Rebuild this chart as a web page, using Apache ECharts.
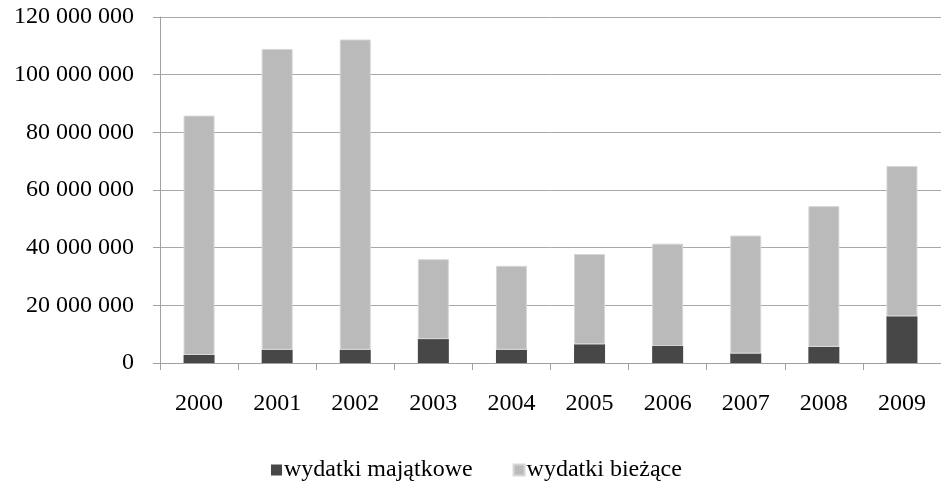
<!DOCTYPE html>
<html>
<head>
<meta charset="utf-8">
<script src="https://cdn.jsdelivr.net/npm/echarts@6/dist/echarts.min.js"></script>
<style>
  html, body { margin: 0; padding: 0; background: #fff; }
  #chart { width: 941px; height: 481px; }
</style>
</head>
<body>
<div id="chart"></div>
<script>
// dane
const years = ['2000', '2001', '2002', '2003', '2004', '2005', '2006', '2007', '2008', '2009']
const majatkowe = [2800000, 4600000, 4600000, 8300000, 4600000, 6500000, 5900000, 3300000, 5600000, 16200000]
const biezace = [83000000, 104300000, 107600000, 27700000, 29100000, 31300000, 35500000, 40900000, 48800000, 52100000]
const yTicks = [0, 20000000, 40000000, 60000000, 80000000, 100000000, 120000000]

const font = 'Liberation Serif'

let myChart = echarts.init(document.querySelector('#chart'))
let option = {
  animation: false,
  textStyle: { fontFamily: font },
  grid: {
    left: 160,
    top: 17,
    width: 783,
    height: 346
  },
  legend: {
    left: 266,
    top: 453,
    itemWidth: 11,
    itemHeight: 11,
    itemGap: 40,
    icon: 'rect',
    textStyle: { fontFamily: font, fontSize: 24, color: '#000', padding: [0, 0, 0, -3] },
    data: ['wydatki majątkowe', 'wydatki bieżące']
  },
  xAxis: {
    type: 'category',
    data: years,
    axisLine: { lineStyle: { color: '#a0a0a0', width: 1 } },
    axisTick: { show: true, length: 7, lineStyle: { color: '#a0a0a0' } },
    axisLabel: { fontFamily: font, fontSize: 24, color: '#000', margin: 29 }
  },
  yAxis: {
    type: 'value',
    min: yTicks[0],
    max: yTicks[yTicks.length - 1],
    interval: yTicks[1] - yTicks[0],
    axisLine: { show: true, lineStyle: { color: '#a0a0a0', width: 1 } },
    axisTick: { show: true, length: 7, lineStyle: { color: '#a0a0a0' } },
    splitLine: { lineStyle: { color: '#a8a8a8', width: 1 } },
    axisLabel: {
      fontFamily: font,
      fontSize: 24,
      color: '#000',
      margin: 26,
      formatter: v => String(v).replace(/\B(?=(\d{3})+(?!\d))/g, ' ')
    }
  },
  series: [
    {
      name: 'wydatki majątkowe',
      type: 'bar',
      stack: 'suma',
      barWidth: 31,
      data: majatkowe,
      itemStyle: { color: '#474747' }
    },
    {
      name: 'wydatki bieżące',
      type: 'bar',
      stack: 'suma',
      barWidth: 31,
      data: biezace,
      itemStyle: { color: '#bababa', borderColor: '#d6d6d6', borderWidth: 1 }
    }
  ]
}
myChart.setOption(option)
</script>
</body>
</html>
